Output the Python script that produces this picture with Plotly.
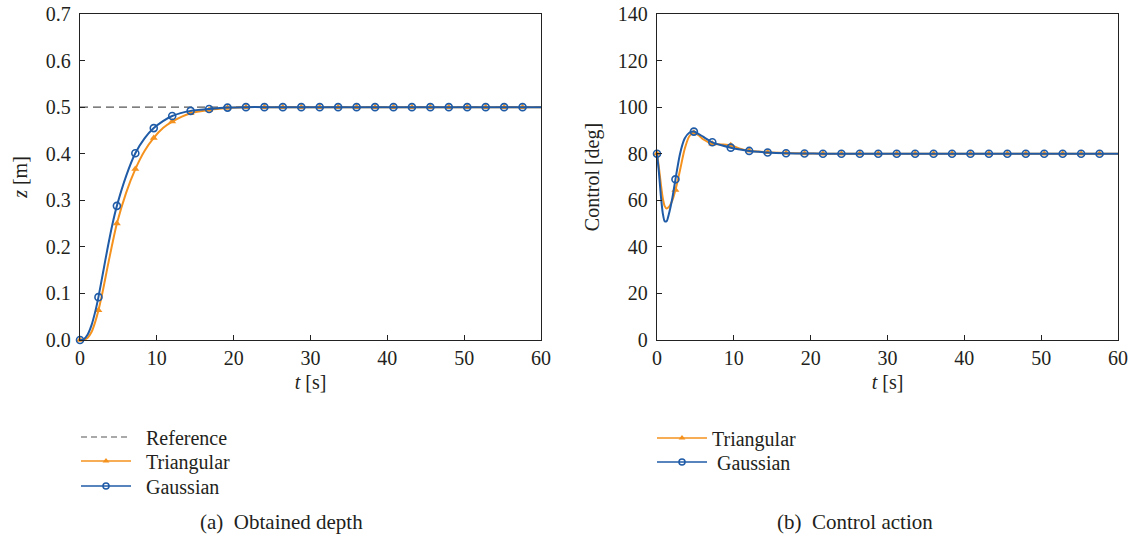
import plotly.graph_objects as go

# ---------------- data ----------------
t_depth = [0, 0.5, 1.0, 1.5, 2.0, 2.4, 3.0, 3.6, 4.2, 4.8, 6.0, 7.2, 8.4, 9.6, 10.8,
           12.0, 14.4, 16.8, 19.2, 21.6, 24.0, 26.4, 28.8, 31.2, 33.6, 36.0, 38.4,
           40.8, 43.2, 45.6, 48.0, 50.4, 52.8, 55.2, 57.6, 60.0]
depth_gauss = [0, 0.002, 0.012, 0.032, 0.062, 0.092, 0.145, 0.198, 0.247, 0.288, 0.352,
               0.401, 0.433, 0.455, 0.470, 0.481, 0.492, 0.496, 0.499, 0.5, 0.5, 0.5,
               0.5, 0.5, 0.5, 0.5, 0.5, 0.5, 0.5, 0.5, 0.5, 0.5, 0.5, 0.5, 0.5, 0.5]
depth_tri = [0, 0.0005, 0.005, 0.017, 0.040, 0.064, 0.108, 0.158, 0.206, 0.250, 0.316,
             0.367, 0.406, 0.434, 0.455, 0.469, 0.487, 0.494, 0.498, 0.5, 0.5, 0.5,
             0.5, 0.5, 0.5, 0.5, 0.5, 0.5, 0.5, 0.5, 0.5, 0.5, 0.5, 0.5, 0.5, 0.5]
t_ref = [0, 60]
depth_ref = [0.5, 0.5]

t_ctrl = [0, 0.25, 0.5, 0.75, 1.0, 1.25, 1.5, 2.0, 2.4, 3.0, 3.6, 4.2, 4.8, 5.4, 6.0,
          7.2, 8.4, 9.6, 10.8, 12.0, 13.2, 14.4, 16.8, 19.2, 21.6, 24.0, 26.4, 28.8,
          31.2, 33.6, 36.0, 38.4, 40.8, 43.2, 45.6, 48.0, 50.4, 52.8, 55.2, 57.6, 60.0]
ctrl_gauss = [80, 72, 62, 54.5, 51, 51, 53.5, 61, 69, 80, 86.5, 89, 89.5, 88.5, 87.3,
              84.9, 83.6, 82.6, 81.8, 81.2, 80.8, 80.5, 80.2, 80.1, 80, 80, 80, 80,
              80, 80, 80, 80, 80, 80, 80, 80, 80, 80, 80, 80, 80]
ctrl_tri = [80, 74, 67, 61, 57.5, 56.5, 57, 60, 64.4, 73, 82, 87.5, 89, 88, 86.2,
            84.3, 84.0, 83.6, 82.2, 81.3, 80.9, 80.6, 80.3, 80.1, 80, 80, 80, 80,
            80, 80, 80, 80, 80, 80, 80, 80, 80, 80, 80, 80, 80]

marker_step = 2.4
marker_last = 57.6

series_names = ["Reference", "Triangular", "Gaussian"]
captions = ["(a)  Obtained depth", "(b)  Control action"]

# ---------------- style ----------------
ORANGE = "#F5921E"
BLUE = "#1F5BA6"
GREY = "#555555"
FONT = "Liberation Serif"
TXT = "#231F20"
NB = "\u00a0"

W, H = 1137, 539


def px(sx):
    return sx / W


def py(sy):
    return 1 - sy / H


def marker_subset(ts, vs):
    xs, ys = [], []
    for t, v in zip(ts, vs):
        k = t / marker_step
        if abs(k - round(k)) < 1e-6 and t <= marker_last + 1e-6:
            xs.append(t)
            ys.append(v)
    return xs, ys


fig = go.Figure()

tri_marker = dict(symbol="triangle-up", size=7, color=ORANGE)
circ_marker = dict(symbol="circle-open", size=7, color=BLUE, line=dict(width=1.6, color=BLUE))


def add_series(ts, vs, color, marker, xa, ya):
    fig.add_trace(go.Scatter(x=ts, y=vs, mode="lines", line=dict(color=color, width=2,
                             shape="spline", smoothing=0.7), xaxis=xa, yaxis=ya,
                             showlegend=False, hoverinfo="skip"))
    mx, my = marker_subset(ts, vs)
    fig.add_trace(go.Scatter(x=mx, y=my, mode="markers", marker=marker, xaxis=xa, yaxis=ya,
                             showlegend=False, cliponaxis=False))


# left panel
fig.add_trace(go.Scatter(x=t_ref, y=depth_ref, mode="lines",
                         line=dict(color=GREY, width=1.2, dash="8px,5px"),
                         xaxis="x", yaxis="y", showlegend=False))
add_series(t_depth, depth_tri, ORANGE, tri_marker, "x", "y")
add_series(t_depth, depth_gauss, BLUE, circ_marker, "x", "y")

# right panel
add_series(t_ctrl, ctrl_tri, ORANGE, tri_marker, "x2", "y2")
add_series(t_ctrl, ctrl_gauss, BLUE, circ_marker, "x2", "y2")

# legend entries (one legend box per row)
leg_tri = dict(symbol="triangle-up", size=6, color=ORANGE)
leg_circ = dict(symbol="circle-open", size=6, color=BLUE, line=dict(width=1.5, color=BLUE))
fig.add_trace(go.Scatter(x=[None], y=[None], mode="lines", name=NB * 2 + series_names[0],
                         line=dict(color=GREY, width=1.2, dash="6px,4px"), legend="legend"))
fig.add_trace(go.Scatter(x=[None], y=[None], mode="lines+markers", name=NB * 2 + series_names[1],
                         line=dict(color=ORANGE, width=1.5), marker=leg_tri, legend="legend2"))
fig.add_trace(go.Scatter(x=[None], y=[None], mode="lines+markers", name=NB * 2 + series_names[2],
                         line=dict(color=BLUE, width=1.5), marker=leg_circ, legend="legend3"))
fig.add_trace(go.Scatter(x=[None], y=[None], mode="lines+markers", name=series_names[1],
                         line=dict(color=ORANGE, width=1.5), marker=leg_tri,
                         legend="legend4", xaxis="x2", yaxis="y2"))
fig.add_trace(go.Scatter(x=[None], y=[None], mode="lines+markers", name=NB + series_names[2],
                         line=dict(color=BLUE, width=1.5), marker=leg_circ,
                         legend="legend5", xaxis="x2", yaxis="y2"))


def leg(sx, sy):
    return dict(x=px(sx), y=py(sy), xanchor="left", yanchor="middle",
                font=dict(family=FONT, size=20, color=TXT), bgcolor="rgba(0,0,0,0)",
                itemwidth=50, borderwidth=0)


ydom = [py(340), py(14)]
axis_common = dict(showline=True, linecolor="#222", linewidth=1.3, mirror=True,
                   ticks="inside", ticklen=5, tickcolor="#222", showgrid=False,
                   zeroline=False, automargin=False, ticklabeloverflow="allow",
                   tickfont=dict(family=FONT, size=20, color=TXT))
title_font = dict(family=FONT, size=20, color=TXT)

fig.update_layout(
    width=W, height=H,
    margin=dict(l=0, r=0, t=0, b=0, autoexpand=False),
    paper_bgcolor="white", plot_bgcolor="white",
    font=dict(family=FONT, size=20, color=TXT),
    xaxis=dict(domain=[px(80), px(541)], range=[0, 60], dtick=10, anchor="y",
               title=dict(text="<i>t</i> [s]", font=title_font, standoff=6),
               **axis_common),
    yaxis=dict(domain=ydom, range=[0, 0.7], dtick=0.1, tickformat=".1f", anchor="x",
               title=dict(text="<i>z</i> [m]", font=title_font, standoff=12),
               ticklabelstandoff=4, **axis_common),
    xaxis2=dict(domain=[px(657), px(1118)], range=[0, 60], dtick=10, anchor="y2",
                title=dict(text="<i>t</i> [s]", font=title_font, standoff=6),
                **axis_common),
    yaxis2=dict(domain=ydom, range=[0, 140], dtick=20, anchor="x2",
                title=dict(text="Control [deg]", font=title_font, standoff=12),
                ticklabelstandoff=4, **axis_common),
    legend=leg(76, 437),
    legend2=leg(76, 461),
    legend3=leg(76, 486),
    legend4=leg(652, 438),
    legend5=leg(652, 462),
    annotations=[
        dict(text=captions[0], x=px(281), y=py(522), xref="paper", yref="paper",
             xanchor="center", yanchor="middle",
             showarrow=False, font=dict(family=FONT, size=21, color=TXT)),
        dict(text=captions[1], x=px(855), y=py(522), xref="paper", yref="paper",
             xanchor="center", yanchor="middle",
             showarrow=False, font=dict(family=FONT, size=21, color=TXT)),
    ],
)

fig.write_html("out.html", config={"displayModeBar": False},
               post_script="document.body.style.margin='0';document.body.style.overflow='hidden';")
